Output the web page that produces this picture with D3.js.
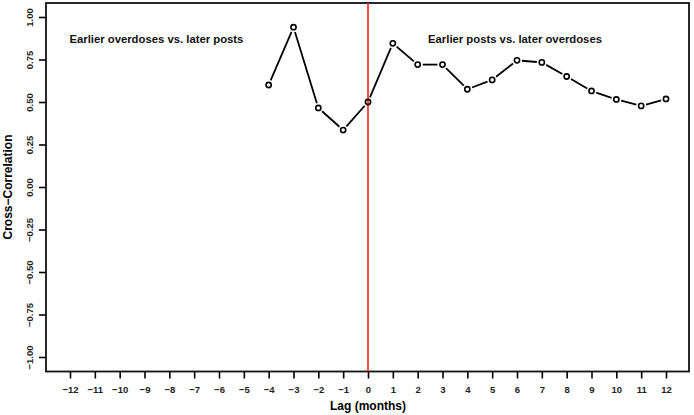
<!DOCTYPE html>
<html>
<head>
<meta charset="utf-8">
<script src="https://cdn.jsdelivr.net/npm/d3@7"></script>
<style>
  body { margin: 0; background: #fff; }
  svg text { font-family: "Liberation Sans", Arial, Helvetica, sans-serif; }
</style>
</head>
<body>
<div id="container"></div>
<script>
var width = 694,
    height = 415;

// lag in months and cross-correlation
var lags = [-4, -3, -2, -1, 0, 1, 2, 3, 4, 5, 6, 7, 8, 9, 10, 11, 12];
var corr = [0.60, 0.94, 0.465, 0.335, 0.50, 0.845, 0.72, 0.72, 0.575, 0.63, 0.745, 0.733, 0.65, 0.565, 0.515, 0.477, 0.518];
var xTicks = d3.range(-12, 13);
var yTicks = [-1, -0.75, -0.5, -0.25, 0, 0.25, 0.5, 0.75, 1];
var notes = [
    { text: "Earlier overdoses vs. later posts", lag: -8.52 },
    { text: "Earlier posts vs. later overdoses", lag: 5.92 }
];

var box = { left: 46, right: 689, top: 3, bottom: 371.5 };

var x = d3.scaleLinear().domain([-12, 12]).range([70, 666]);
var y = d3.scaleLinear().domain([-1, 1]).range([357, 17]);

var svg = d3.select("#container")
    .append("svg")
    .attr("width", width)
    .attr("height", height);

var fmt = function (d) { return d3.format(".2f")(d).replace("-", "\u2212"); };

// y axis
var yAxis = svg.append("g")
    .attr("transform", "translate(" + box.left + ",0)")
    .call(d3.axisLeft(y).tickValues(yTicks).tickSize(7).tickFormat(fmt));
yAxis.select(".domain").remove();
yAxis.selectAll("line").attr("stroke", "#000").attr("stroke-width", 1.6);
yAxis.selectAll("text")
    .attr("x", 0)
    .attr("y", 0)
    .attr("dy", null)
    .attr("text-anchor", "middle")
    .attr("transform", "translate(-13,0) rotate(-90)")
    .style("font-size", "9.5px")
    .style("font-weight", "bold")
    .attr("fill", "#222");

// x axis
var xAxis = svg.append("g")
    .attr("transform", "translate(0," + (box.bottom + 0.5) + ")")
    .call(d3.axisBottom(x).tickValues(xTicks).tickSize(6.5).tickPadding(8)
        .tickFormat(function (d) { return String(d).replace("-", "\u2212"); }));
xAxis.select(".domain").remove();
xAxis.selectAll("line").attr("stroke", "#000").attr("stroke-width", 1.6);
xAxis.selectAll("text")
    .style("font-size", "9.5px")
    .style("font-weight", "bold")
    .attr("fill", "#222");

// plot frame
svg.append("rect")
    .attr("x", box.left)
    .attr("y", box.top)
    .attr("width", box.right - box.left)
    .attr("height", box.bottom - box.top)
    .attr("fill", "none")
    .attr("stroke", "#111")
    .attr("stroke-width", 1.8);

// axis titles
svg.append("text")
    .attr("x", x(0))
    .attr("y", 410)
    .attr("text-anchor", "middle")
    .style("font-size", "12px")
    .style("font-weight", "bold")
    .text("Lag (months)");

svg.append("text")
    .attr("transform", "translate(12," + y(0) + ") rotate(-90)")
    .attr("text-anchor", "middle")
    .style("font-size", "12px")
    .style("font-weight", "bold")
    .text("Cross\u2212Correlation");

// red zero line
svg.append("line")
    .attr("x1", x(0)).attr("x2", x(0))
    .attr("y1", box.top).attr("y2", box.bottom)
    .attr("stroke", "#ff2020")
    .attr("stroke-width", 1.6);

// annotations
svg.selectAll(".note")
    .data(notes)
    .enter().append("text")
    .attr("class", "note")
    .attr("x", function (d) { return x(d.lag); })
    .attr("y", 43)
    .attr("text-anchor", "middle")
    .style("font-size", "11.3px")
    .style("font-weight", "bold")
    .attr("fill", "#111")
    .text(function (d) { return d.text; });

// line segments with gaps around the points (type = "b")
var pts = lags.map(function (l, i) { return { x: x(l), y: y(corr[i]) }; });
var gap = 5;
var segs = d3.pairs(pts).map(function (p) {
    var dx = p[1].x - p[0].x, dy = p[1].y - p[0].y;
    var len = Math.sqrt(dx * dx + dy * dy);
    var ux = dx / len, uy = dy / len;
    return { x1: p[0].x + ux * gap, y1: p[0].y + uy * gap, x2: p[1].x - ux * gap, y2: p[1].y - uy * gap };
});
svg.selectAll(".seg")
    .data(segs)
    .enter().append("line")
    .attr("class", "seg")
    .attr("x1", function (d) { return d.x1; })
    .attr("y1", function (d) { return d.y1; })
    .attr("x2", function (d) { return d.x2; })
    .attr("y2", function (d) { return d.y2; })
    .attr("stroke", "#000")
    .attr("stroke-width", 1.8);

svg.selectAll(".pt")
    .data(pts)
    .enter().append("circle")
    .attr("class", "pt")
    .attr("cx", function (d) { return d.x; })
    .attr("cy", function (d) { return d.y; })
    .attr("r", 2.6)
    .attr("fill", "none")
    .attr("stroke", "#000")
    .attr("stroke-width", 1.6);
</script>
</body>
</html>
